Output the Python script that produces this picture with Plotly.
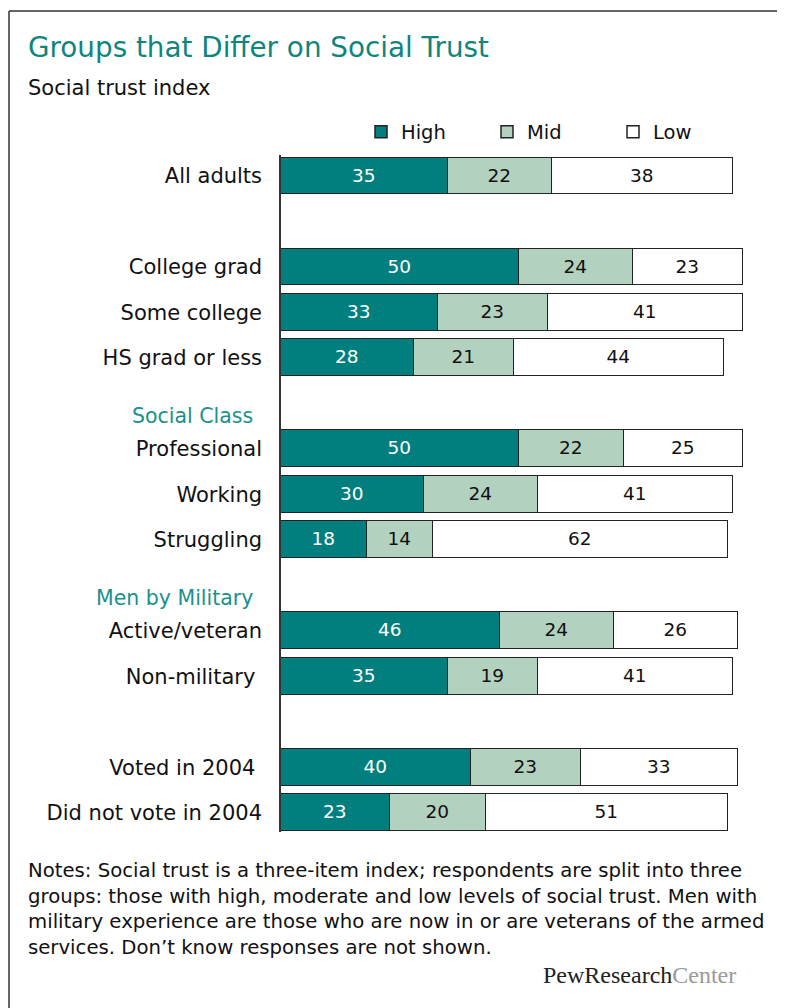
import plotly.graph_objects as go

# ---------------- data ----------------
groups = ["All adults", "College grad", "Some college", "HS grad or less",
          "Professional", "Working", "Struggling",
          "Active/veteran", "Non-military", "Voted in 2004", "Did not vote in 2004"]
high = [35, 50, 33, 28, 50, 30, 18, 46, 35, 40, 23]
mid = [22, 24, 23, 21, 22, 24, 14, 24, 19, 23, 20]
low = [38, 23, 41, 44, 25, 41, 62, 26, 41, 33, 51]
tick_labels = ["All adults", "College grad", "Some college", "HS grad or less",
               "Professional", "Working", "Struggling",
               "Active/veteran", "Non-military\u00a0", "Voted in 2004\u00a0", "Did not vote in 2004"]
# row order of the chart, including blank rows and section headers
row_order = ["All adults", "", "College grad", "Some college", "HS grad or less",
             "#Social Class", "Professional", "Working", "Struggling",
             "#Men by Military", "Active/veteran", "Non-military", "",
             "Voted in 2004", "Did not vote in 2004"]
series_names = ["High", "Mid", "Low"]

TEAL = "#007f7e"
MIDC = "#b3d1bf"
HEAD = "#1a918a"
FONT = "DejaVu Sans"

ypos = [row_order.index(g) for g in groups]
headers = [(r[1:], i) for i, r in enumerate(row_order) if r.startswith("#")]

OFF = 8                     # page body margin
W, H = 785 - OFF, 1008 - OFF
L, R, T, B = 281 - OFF, 28, 155 - OFF, 176

def px(x):
    return (x - OFF - L) / (W - L - R)

def py(y):
    return (H - B - (y - OFF)) / (H - T - B)

fig = go.Figure()
for name, vals, col, tcol in [("High", high, TEAL, "white"),
                              ("Mid", mid, MIDC, "#111"),
                              ("Low", low, "white", "#111")]:
    fig.add_trace(go.Bar(
        name=name, x=vals, y=ypos, orientation="h", width=0.81,
        marker=dict(color=col, line=dict(color="#222", width=1.5)),
        text=vals, texttemplate="%{x}", textposition="inside",
        insidetextanchor="middle", textangle=0,
        textfont=dict(color=tcol, size=18.5, family=FONT),
        hoverinfo="skip", cliponaxis=False,
    ))

annotations = []
for text, i in headers:
    annotations.append(dict(text=text, x=px(255), xref="paper", y=i, yref="y",
                            xanchor="right", yanchor="middle", yshift=-13,
                            showarrow=False,
                            font=dict(size=20.5, color=HEAD, family=FONT)))

annotations.append(dict(text="Social trust index", x=px(26), xref="paper", y=py(88), yref="paper",
                        xanchor="left", yanchor="middle", showarrow=False,
                        font=dict(size=21, color="#111", family=FONT)))

notes = ("Notes: Social trust is a three-item index; respondents are split into three<br>"
         "groups: those with high, moderate and low levels of social trust. Men with<br>"
         "military experience are those who are now in or are veterans of the armed<br>"
         "services. Don\u2019t know responses are not shown.")
annotations.append(dict(text=notes, x=px(26), xref="paper", y=py(857), yref="paper",
                        xanchor="left", yanchor="top", align="left", showarrow=False,
                        font=dict(size=19.7, color="#111", family=FONT)))

annotations.append(dict(text="<span style='color:#222'>PewResearch</span><span style='color:#999'>Center</span>",
                        x=px(738), xref="paper", y=py(975), yref="paper",
                        xanchor="right", yanchor="middle", showarrow=False,
                        font=dict(size=24, family="Liberation Serif")))

shapes = [
    dict(type="line", xref="paper", yref="paper", x0=px(9), x1=px(800), y0=py(11), y1=py(11),
         line=dict(color="#333", width=1.5)),
    dict(type="line", xref="paper", yref="paper", x0=px(9), x1=px(9), y0=py(11), y1=py(1020),
         line=dict(color="#333", width=1.5)),
]

fig.update_layout(
    width=W, height=H, barmode="stack",
    margin=dict(l=L, r=R, t=T, b=B, autoexpand=False),
    paper_bgcolor="white", plot_bgcolor="white",
    font=dict(family=FONT, color="#111"),
    title=dict(text="Groups that Differ on Social Trust", x=(28 - OFF) / W, xref="container",
               xanchor="left", y=1 - (47 - OFF) / H, yref="container", yanchor="middle",
               font=dict(size=27.8, color="#0e857d", family=FONT)),
    legend=dict(orientation="h", x=px(361), xref="paper", y=py(132), yref="paper",
                xanchor="left", yanchor="middle", entrywidth=81, entrywidthmode="pixels",
                traceorder="normal", font=dict(size=19.5, color="#111"),
                bgcolor="rgba(0,0,0,0)"),
    xaxis=dict(range=[0, 100], visible=False, fixedrange=True),
    yaxis=dict(range=[14.42, -0.46], tickvals=ypos, ticktext=tick_labels,
               tickfont=dict(size=21, color="#111", family=FONT), ticks="", ticklen=0,
               ticklabelstandoff=13,
               showgrid=False, zeroline=False, showline=True, linecolor="#333", linewidth=1.5,
               fixedrange=True),
    annotations=annotations, shapes=shapes,
    bargap=0,
)

fig.write_html("out.html")
